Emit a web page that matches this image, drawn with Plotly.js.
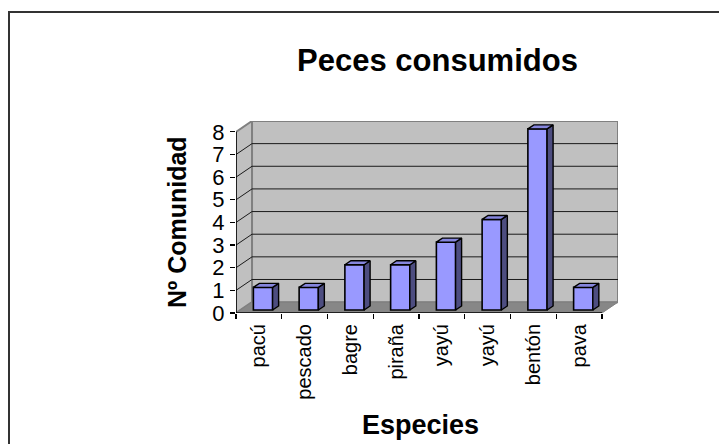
<!DOCTYPE html>
<html>
<head>
<meta charset="utf-8">
<script src="https://cdn.plot.ly/plotly-3.0.1.min.js"></script>
<style>
  html, body { margin: 0; padding: 0; background: #ffffff; }
  #chart { width: 719px; height: 444px; }
</style>
</head>
<body>
<div id="chart"></div>
<script>
// ---- data ----
const categories = ['pacú', 'pescado', 'bagre', 'piraña', 'yayú', 'yayú', 'bentón', 'pava'];
const counts = [1, 1, 2, 2, 3, 4, 8, 1];
const yTickValues = [0, 1, 2, 3, 4, 5, 6, 7, 8];
const chartTitle = 'Peces consumidos';
const xTitle = 'Especies';
const yTitle = 'Nº Comunidad';

// ---- geometry (pixel layout of the pseudo-3D box) ----
const W = 719, H = 444;
const plotL = 236, plotR = 618, plotT = 121, plotB = 313;
const n = categories.length;
const yMax = yTickValues[yTickValues.length - 1];
const depthX = 0.35;   // back wall offset in category units
const depthY = 0.48;   // back wall offset in value units
const xRange = [-0.5, n - 0.5 + depthX];
const yRange = [0, yMax + depthY];
const pxPerX = (plotR - plotL) / (xRange[1] - xRange[0]);
const pxPerY = (plotB - plotT) / (yRange[1] - yRange[0]);

const idx = categories.map((_, i) => i);
const barOff = 0.09, barW = 0.42, barBase = 3 / pxPerY;
const bdx = 6 / pxPerX, bdy = 4 / pxPerY;

const FONT = 'Liberation Sans, Arial, Helvetica, sans-serif';

// ---- walls / floor / gridlines as shapes ----
const shapes = [];
const wallFill = '#c0c0c0', wallLine = '#808080', floorFill = '#878787';
const xl = -0.5, xr = n - 0.5;
// back wall
shapes.push({type: 'rect', xref: 'x', yref: 'y', layer: 'below',
  x0: xl + depthX, x1: xr + depthX, y0: depthY, y1: yMax + depthY,
  fillcolor: wallFill, line: {color: wallLine, width: 2}});
// left wall
shapes.push({type: 'path', xref: 'x', yref: 'y', layer: 'below',
  path: `M ${xl},0 L ${xl + depthX},${depthY} L ${xl + depthX},${yMax + depthY} L ${xl},${yMax} Z`,
  fillcolor: wallFill, line: {color: wallLine, width: 2}});
// gridlines
for (let k = 1; k < yMax; k++) {
  shapes.push({type: 'line', xref: 'x', yref: 'y', layer: 'below',
    x0: xl + depthX, x1: xr + depthX, y0: k + depthY, y1: k + depthY,
    line: {color: '#1a1a1a', width: 1}});
  shapes.push({type: 'line', xref: 'x', yref: 'y', layer: 'below',
    x0: xl, x1: xl + depthX, y0: k, y1: k + depthY,
    line: {color: '#1a1a1a', width: 1}});
}
// floor
shapes.push({type: 'path', xref: 'x', yref: 'y', layer: 'below',
  path: `M ${xl},0 L ${xr},0 L ${xr + depthX},${depthY} L ${xl + depthX},${depthY} Z`,
  fillcolor: floorFill, line: {color: wallLine, width: 1}});
// front axis lines
shapes.push({type: 'line', xref: 'x', yref: 'y', layer: 'above',
  x0: xl, x1: xr, y0: 0, y1: 0, line: {color: '#000000', width: 1.5}});
shapes.push({type: 'line', xref: 'x', yref: 'y', layer: 'above',
  x0: xl, x1: xl, y0: 0, y1: yMax, line: {color: '#000000', width: 1.5}});
// outer chart border (continues past right/bottom edges)
const px2xp = p => (p - plotL) / (plotR - plotL);
const px2yp = p => (plotB - p) / (plotB - plotT);
shapes.push({type: 'rect', xref: 'paper', yref: 'paper', layer: 'above',
  x0: px2xp(9), x1: px2xp(730), y0: px2yp(12), y1: px2yp(460),
  line: {color: '#333333', width: 2}, fillcolor: 'rgba(0,0,0,0)'});

// ---- bar faces ----
const sideX = [], sideY = [], topX = [], topY = [];
idx.forEach((i) => {
  const v = counts[i];
  const x0 = i + barOff - barW / 2, x1 = i + barOff + barW / 2;
  const b = barBase, t = barBase + v;
  sideX.push(x1, x1 + bdx, x1 + bdx, x1, x1, null);
  sideY.push(b, b + bdy, t + bdy, t, b, null);
  topX.push(x0, x0 + bdx, x1 + bdx, x1, x0, null);
  topY.push(t, t + bdy, t + bdy, t, t, null);
});

const traces = [
  {type: 'bar', x: idx.map(i => i + barOff), y: counts, base: counts.map(() => barBase),
   width: barW, marker: {color: '#9999ff', line: {color: '#000000', width: 1.6}},
   hoverinfo: 'skip', showlegend: false},
  {type: 'scatter', mode: 'lines', x: sideX, y: sideY, fill: 'toself', fillcolor: '#4d4d80',
   line: {color: '#000000', width: 1.4}, hoverinfo: 'skip', showlegend: false},
  {type: 'scatter', mode: 'lines', x: topX, y: topY, fill: 'toself', fillcolor: '#8585dd',
   line: {color: '#000000', width: 1.4}, hoverinfo: 'skip', showlegend: false}
];

const layout = {
  width: W, height: H,
  margin: {l: plotL, r: W - plotR, t: plotT, b: H - plotB, pad: 0},
  paper_bgcolor: '#ffffff', plot_bgcolor: 'rgba(0,0,0,0)',
  showlegend: false,
  font: {family: FONT, color: '#000000'},
  title: {text: chartTitle, xref: 'container', yref: 'container',
    x: 437.5 / W, xanchor: 'center', y: 1 - 60 / H, yanchor: 'middle',
    font: {family: FONT, size: 31, weight: 'bold', color: '#000000'}},
  xaxis: {range: xRange, tickmode: 'array', tickvals: idx, ticktext: categories,
    tickangle: -90, ticks: '', ticklen: 0, showgrid: false, zeroline: false, showline: false,
    tickfont: {family: FONT, size: 20, color: '#000000'}, ticklabelstandoff: 6,
    minor: {tickmode: 'linear', tick0: -0.5, dtick: 1, ticks: 'outside', ticklen: 5,
      tickwidth: 1.2, tickcolor: '#000000', showgrid: false},
    fixedrange: true},
  yaxis: {range: yRange, tickmode: 'array', tickvals: yTickValues,
    ticks: 'outside', ticklen: 5, tickwidth: 1.2, tickcolor: '#000000',
    showgrid: false, zeroline: false, showline: false,
    tickfont: {family: FONT, size: 22, color: '#000000'}, ticklabelstandoff: 1,
    fixedrange: true},
  annotations: [
    {text: yTitle, xref: 'paper', yref: 'paper', x: px2xp(177), y: px2yp(222),
     xanchor: 'center', yanchor: 'middle', textangle: -90, showarrow: false,
     font: {family: FONT, size: 25, weight: 'bold', color: '#000000'}},
    {text: xTitle, xref: 'paper', yref: 'paper', x: px2xp(420), y: px2yp(425),
     xanchor: 'center', yanchor: 'middle', showarrow: false,
     font: {family: FONT, size: 27, weight: 'bold', color: '#000000'}}
  ],
  shapes: shapes,
  bargap: 0
};

Plotly.newPlot('chart', traces, layout, {staticPlot: true, displayModeBar: false});
</script>
</body>
</html>
